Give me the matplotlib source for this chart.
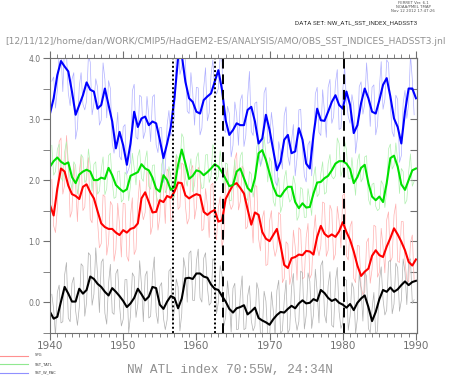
import numpy as np
import matplotlib.pyplot as plt
from matplotlib.ticker import MultipleLocator, FormatStrFormatter

# smoothed indices, every half year 1940.0 .. 1990.0
years = np.linspace(1940, 1990, 101)
sst_w_pac = [3.09, 3.34, 3.72, 3.95, 3.86, 3.78, 3.45, 3.07, 3.23, 3.39, 3.60, 3.48, 3.45, 3.17, 3.23, 3.50, 3.23, 2.96, 2.52, 2.79, 2.57, 2.25, 2.60, 3.12, 2.87, 3.01,
             3.04, 2.90, 2.96, 2.93, 2.66, 2.36, 2.60, 2.87, 3.34, 4.00, 4.05, 3.61, 3.34, 3.28, 3.12, 3.09, 3.31, 3.37, 3.42, 3.61, 3.80, 3.48, 2.98, 2.74,
             2.82, 2.93, 2.90, 2.90, 3.15, 3.20, 2.96, 2.60, 2.68, 3.07, 2.82, 2.49, 2.16, 2.30, 2.66, 2.74, 2.44, 2.47, 2.85, 2.66, 2.27, 2.19, 2.74, 3.17, 2.98,
             2.97, 3.12, 3.28, 3.39, 3.23, 3.17, 3.45, 3.23, 2.77, 2.90, 3.26, 3.50, 3.34, 3.12, 3.09, 3.31, 3.56, 3.67, 3.37, 3.01, 2.87, 2.60, 3.12, 3.50, 3.50, 3.34]
sst_tatl = [2.22, 2.31, 2.37, 2.30, 2.26, 2.29, 2.05, 1.95, 2.09, 2.14, 2.17, 2.14, 2.00, 2.00, 2.04, 2.02, 2.20, 2.08, 1.92, 1.86, 1.81, 1.85, 2.07, 2.10, 2.13, 2.26,
            2.19, 2.16, 2.04, 1.86, 1.81, 2.08, 2.00, 1.84, 1.89, 2.25, 2.50, 2.27, 2.02, 2.07, 2.16, 2.14, 2.08, 2.13, 2.19, 2.26, 2.22, 2.13, 2.02, 1.90,
            1.92, 2.14, 2.19, 2.03, 1.87, 1.81, 2.03, 2.44, 2.49, 2.33, 2.11, 1.89, 1.75, 1.73, 1.82, 1.89, 1.89, 1.64, 1.54, 1.62, 1.55, 1.56, 1.78, 1.96, 1.97,
            2.03, 2.07, 2.16, 2.27, 2.31, 2.31, 2.27, 2.18, 1.95, 2.05, 2.20, 2.25, 1.95, 1.73, 1.67, 1.73, 1.64, 1.95, 2.36, 2.40, 2.22, 1.93, 1.84, 2.00, 2.16, 2.19]
spg = [1.59, 1.42, 1.86, 2.19, 2.14, 1.91, 1.77, 1.74, 1.69, 1.89, 1.93, 1.80, 1.70, 1.49, 1.29, 1.23, 1.20, 1.20, 1.14, 1.10, 1.18, 1.14, 1.20, 1.22, 1.29, 1.70,
       1.80, 1.64, 1.47, 1.48, 1.67, 1.64, 1.74, 1.71, 1.81, 1.96, 1.95, 1.75, 1.70, 1.74, 1.77, 1.75, 1.48, 1.43, 1.48, 1.51, 1.32, 1.34, 1.69, 1.81,
       1.92, 1.95, 1.87, 1.78, 1.52, 1.27, 1.47, 1.43, 1.15, 1.04, 1.00, 1.10, 1.20, 0.93, 0.61, 0.56, 0.72, 0.74, 0.78, 0.77, 0.84, 0.83, 0.78, 1.07, 1.25,
       1.12, 1.07, 1.11, 1.07, 1.16, 1.31, 1.15, 1.02, 0.83, 0.60, 0.43, 0.50, 0.55, 0.76, 0.85, 0.77, 0.74, 0.91, 1.05, 1.21, 1.11, 0.99, 0.85, 0.66, 0.60, 0.70]
nw_atl = [-0.16, -0.27, -0.24, 0.01, 0.25, 0.14, 0.01, 0.01, 0.22, 0.14, 0.20, 0.42, 0.38, 0.30, 0.25, 0.17, 0.11, 0.23, 0.17, 0.10, 0.02, -0.08, -0.02, 0.07, 0.22, 0.13,
          0.03, 0.09, 0.25, 0.23, -0.04, -0.11, 0.01, 0.10, 0.07, -0.10, 0.06, 0.39, 0.40, 0.38, 0.47, 0.47, 0.42, 0.40, 0.29, 0.22, 0.20, 0.10, 0.01, -0.11,
          -0.17, -0.10, -0.08, -0.05, -0.20, -0.15, -0.09, -0.26, -0.30, -0.33, -0.37, -0.28, -0.21, -0.16, -0.17, -0.11, -0.06, -0.10, -0.02, 0.03, -0.02, -0.01, 0.05, 0.02, 0.20,
          0.15, 0.07, 0.02, 0.05, -0.01, -0.04, -0.09, -0.03, -0.13, -0.01, 0.06, 0.11, -0.08, -0.31, -0.16, 0.05, 0.20, 0.17, 0.24, 0.17, 0.21, 0.28, 0.34, 0.28, 0.33, 0.35]

# raw (unsmoothed) values at the quarter points 1940.25, 1940.75 .. 1989.75
raw_q_years = np.linspace(1940.25, 1989.75, 100)
w_pac_raw_q = [3.62, 3.18, 4.10, 3.45, 4.07, 3.22, 3.76, 2.85, 3.76, 3.15, 4.04, 3.07, 3.66, 2.90, 3.92, 3.02, 3.50, 2.44, 3.11, 2.33,
               2.91, 2.18, 3.46, 2.70, 3.39, 2.68, 3.37, 2.63, 3.40, 2.45, 2.86, 2.18, 3.14, 2.81, 4.07, 3.73, 4.13, 3.13, 3.76, 2.90,
               3.51, 2.85, 3.84, 3.10, 3.97, 3.41, 4.04, 2.83, 3.21, 2.38, 3.28, 2.57, 3.40, 2.73, 3.78, 2.73, 3.28, 2.24, 3.43, 2.60,
               3.11, 1.98, 2.63, 2.18, 3.20, 2.24, 2.91, 2.36, 3.16, 2.07, 2.58, 2.07, 3.41, 2.78, 3.48, 2.70, 3.65, 3.04, 3.81, 2.85,
               3.86, 3.04, 3.40, 2.44, 3.53, 3.08, 3.92, 2.88, 3.56, 2.90, 3.94, 3.32, 3.92, 2.79, 3.39, 2.29, 3.26, 3.01, 4.05, 3.07]
tatl_raw_q = [2.57, 2.14, 2.59, 1.98, 2.63, 2.02, 2.30, 1.77, 2.42, 1.96, 2.51, 1.82, 2.30, 1.82, 2.38, 1.86, 2.44, 1.70, 2.14, 1.64,
              2.13, 1.66, 2.44, 1.92, 2.50, 1.98, 2.48, 1.85, 2.25, 1.64, 2.25, 1.79, 2.22, 1.67, 2.42, 2.18, 2.69, 1.90, 2.35, 1.92,
              2.45, 1.86, 2.41, 1.96, 2.58, 1.99, 2.48, 1.83, 2.26, 1.66, 2.33, 1.97, 2.46, 1.70, 2.14, 1.72, 2.54, 2.22, 2.71, 1.97,
              2.30, 1.57, 2.04, 1.58, 2.16, 1.64, 2.07, 1.34, 1.88, 1.39, 1.86, 1.42, 2.22, 1.77, 2.30, 1.80, 2.42, 2.02, 2.69, 2.06,
              2.64, 2.03, 2.37, 1.75, 2.43, 2.03, 2.40, 1.59, 1.95, 1.50, 1.99, 1.55, 2.51, 2.18, 2.61, 1.78, 2.14, 1.67, 2.43, 1.98]
spg_raw_q = [2.01, 1.14, 2.63, 1.77, 2.73, 1.39, 2.26, 1.32, 2.39, 1.56, 2.37, 1.30, 2.00, 0.89, 1.76, 0.77, 1.65, 0.67, 1.62, 0.74,
             1.61, 0.67, 1.71, 0.86, 2.00, 1.35, 2.17, 1.11, 1.98, 1.18, 2.11, 1.29, 2.13, 1.41, 2.39, 1.56, 2.25, 1.28, 2.17, 1.36,
             2.21, 1.17, 1.86, 1.06, 1.95, 1.02, 1.73, 1.07, 2.20, 1.52, 2.34, 1.51, 2.23, 1.20, 1.85, 0.97, 1.90, 0.84, 1.50, 0.62,
             1.50, 0.75, 1.47, 0.32, 0.99, 0.29, 1.18, 0.36, 1.18, 0.41, 1.29, 0.46, 1.43, 0.76, 1.64, 0.75, 1.59, 0.69, 1.57, 0.89,
             1.78, 0.69, 1.33, 0.32, 0.92, 0.12, 0.98, 0.31, 1.26, 0.41, 1.21, 0.48, 1.48, 0.73, 1.61, 0.65, 1.32, 0.36, 0.98, 0.35]
nw_atl_raw_q = [0.13, -0.56, 0.28, -0.32, 0.65, -0.32, 0.41, -0.38, 0.63, -0.23, 0.81, -0.05, 0.89, -0.17, 0.71, -0.36, 0.62, -0.20, 0.54, -0.39,
                0.37, -0.50, 0.48, -0.25, 0.68, -0.32, 0.51, -0.23, 0.74, -0.35, 0.32, -0.45, 0.51, -0.31, 0.38, -0.47, 0.73, 0.00, 0.84, 0.03,
                0.87, 0.00, 0.81, -0.05, 0.71, -0.19, 0.60, -0.39, 0.35, -0.49, 0.31, -0.44, 0.43, -0.43, 0.27, -0.47, 0.32, -0.53, 0.18, -0.55,
                0.17, -0.55, 0.36, -0.47, 0.36, -0.44, 0.47, -0.46, 0.51, -0.44, 0.48, -0.43, 0.54, -0.34, 0.68, -0.34, 0.50, -0.41, 0.57, -0.43,
                0.38, -0.46, 0.32, -0.52, 0.48, -0.31, 0.42, -0.50, 0.16, -0.46, 0.58, -0.21, 0.66, -0.19, 0.64, -0.15, 0.71, -0.04, 0.71, 0.04]

# raw values at the half points 1940.5, 1941.0 .. 1989.5
raw_h_years = np.linspace(1940.5, 1989.5, 99)
w_pac_raw_h = [3.69, 3.47, 4.10, 4.26, 3.43, 3.65, 2.67, 3.53, 3.24, 3.30, 3.93, 3.25, 3.52, 2.98, 3.65, 3.63, 2.61, 2.72, 2.39, 2.87,
               2.10, 2.30, 3.57, 2.67, 3.36, 2.79, 3.05, 3.36, 2.58, 2.86, 1.96, 2.90, 2.72, 3.04, 4.45, 3.85, 3.96, 3.09, 3.43, 3.52,
               2.74, 3.51, 2.97, 3.72, 3.46, 3.50, 3.93, 2.78, 3.09, 2.57, 3.08, 3.30, 2.55, 3.35, 2.80, 3.26, 2.45, 2.38, 3.52, 2.62,
               2.84, 1.91, 2.45, 3.06, 2.39, 2.64, 2.07, 3.15, 2.51, 1.97, 2.64, 2.54, 3.52, 2.73, 3.12, 3.52, 2.93, 3.59, 2.83, 3.47,
               3.30, 2.93, 3.22, 2.70, 3.61, 3.25, 3.49, 3.52, 2.74, 3.51, 3.16, 3.97, 3.22, 2.71, 3.32, 2.40, 3.47, 3.25, 3.65]
tatl_raw_h = [2.08, 2.50, 2.04, 2.46, 2.19, 1.85, 2.24, 1.96, 2.37, 2.01, 2.24, 2.26, 1.77, 2.17, 1.76, 2.40, 1.98, 1.72, 2.15, 1.68,
              2.08, 1.91, 2.20, 2.39, 2.03, 2.32, 1.90, 2.24, 1.76, 1.61, 2.37, 1.87, 2.07, 1.73, 2.35, 2.76, 2.04, 2.15, 1.81, 2.36,
              2.04, 1.88, 2.42, 2.06, 2.49, 2.06, 2.23, 2.28, 1.67, 2.05, 1.88, 2.39, 1.93, 1.67, 2.10, 1.90, 2.67, 2.33, 2.43, 2.37,
              1.66, 1.88, 1.47, 2.02, 1.79, 1.69, 1.93, 1.41, 1.85, 1.39, 1.66, 2.04, 1.73, 2.10, 1.77, 2.27, 2.06, 2.07, 2.60, 2.18,
              2.50, 2.02, 2.05, 2.31, 1.97, 2.38, 1.69, 1.93, 1.57, 1.53, 1.93, 1.82, 2.59, 2.24, 2.32, 2.19, 1.61, 2.13, 1.90]
spg_raw_h = [1.25, 1.53, 2.69, 1.92, 2.30, 1.49, 1.91, 2.13, 1.50, 2.15, 1.36, 2.03, 1.32, 0.96, 1.73, 0.98, 1.59, 0.86, 1.27, 1.62,
             0.75, 1.42, 0.78, 1.62, 1.53, 1.47, 2.14, 1.25, 1.87, 1.39, 1.81, 2.18, 1.32, 2.03, 1.52, 2.28, 1.58, 1.37, 2.24, 1.55,
             2.14, 1.20, 1.60, 1.92, 1.12, 1.54, 0.90, 2.02, 1.64, 1.59, 2.45, 1.65, 2.17, 1.24, 1.44, 1.91, 1.04, 1.37, 0.60, 1.33,
             0.93, 0.87, 1.43, 0.39, 0.95, 0.44, 0.91, 1.22, 0.38, 1.06, 0.39, 1.11, 0.90, 0.92, 1.62, 0.85, 1.50, 0.79, 1.33, 1.75,
             0.76, 1.24, 0.39, 0.93, 0.26, 0.17, 1.05, 0.54, 1.24, 0.49, 0.91, 1.35, 0.66, 1.43, 0.67, 1.32, 0.68, 0.33, 1.10]
nw_atl_raw_h = [-0.12, 0.16, -0.34, 0.45, -0.26, 0.31, -0.14, -0.08, 0.59, 0.00, 0.77, 0.13, 0.45, 0.65, -0.18, 0.31, -0.17, 0.47, -0.05, -0.28,
                0.37, -0.22, 0.42, -0.03, 0.28, 0.43, -0.26, 0.45, -0.17, 0.26, -0.26, -0.29, 0.55, -0.13, 0.25, -0.19, 0.54, 0.80, 0.03, 0.67,
                0.07, 0.72, 0.25, -0.01, 0.67, 0.00, 0.45, -0.24, 0.04, 0.23, -0.45, 0.12, -0.45, 0.10, -0.30, -0.39, 0.19, -0.50, 0.02, -0.62,
                -0.13, 0.19, -0.51, 0.03, -0.51, 0.24, -0.25, -0.32, 0.48, -0.22, 0.34, -0.20, 0.17, 0.60, -0.20, 0.27, -0.38, 0.35, -0.16, -0.34,
                0.36, -0.23, 0.22, -0.26, 0.21, 0.51, -0.43, -0.11, -0.56, 0.35, 0.05, -0.13, 0.69, -0.03, 0.56, 0.03, 0.49, 0.68, -0.02]

dotted_years = [1956.8, 1962.6]
dashed_years = [1963.6, 1980.2]

legend_names = ['SPG', 'SST_TATL', 'SST_W_PAC']


def merged(quarter_vals, half_vals):
    t = np.concatenate([raw_q_years, raw_h_years])
    v = np.concatenate([quarter_vals, half_vals])
    order = np.argsort(t)
    return t[order], v[order]


W, H = 461, 376
fig = plt.figure(figsize=(W / 100, H / 100), dpi=100)
ax = fig.add_axes([50 / W, 1 - 332.7 / H, 366.7 / W, 274.7 / H])

gray = '#707070'

# raw series in light colours
ax.plot(*merged(spg_raw_q, spg_raw_h), color='#ffb0b0', lw=0.5)
ax.plot(*merged(tatl_raw_q, tatl_raw_h), color='#b0f0b0', lw=0.5)
ax.plot(*merged(w_pac_raw_q, w_pac_raw_h), color='#b0b0ff', lw=0.5)
ax.plot(*merged(nw_atl_raw_q, nw_atl_raw_h), color='#b0b0b0', lw=0.5)

# smoothed series
ax.plot(years, spg, color='#ff0000', lw=1.5)
ax.plot(years, sst_tatl, color='#00e000', lw=1.5)
ax.plot(years, sst_w_pac, color='#0000ff', lw=1.5)
ax.plot(years, nw_atl, color='black', lw=1.5)

for yr in dotted_years:
    ax.axvline(yr, color='black', lw=1.4, ls=(0, (1, 1.2)))
for yr in dashed_years:
    ax.axvline(yr, color='black', lw=1.4, ls=(0, (5, 3)))

ax.set_xlim(1940, 1990.1)
ax.set_ylim(-0.5, 4.0)

ax.xaxis.set_major_locator(MultipleLocator(10))
ax.xaxis.set_minor_locator(MultipleLocator(1))
ax.yaxis.set_major_locator(MultipleLocator(1))
ax.yaxis.set_minor_locator(MultipleLocator(0.5))
ax.yaxis.set_major_formatter(FormatStrFormatter('%.1f'))

ax.tick_params(axis='x', which='both', direction='out', top=True, color=gray, labelcolor=gray, labelsize=7.5, pad=1)
ax.tick_params(axis='x', which='major', length=5)
ax.tick_params(axis='x', which='minor', length=3)
ax.tick_params(axis='y', which='both', direction='out', length=5, color=gray, labelcolor=gray, labelsize=5.5, pad=2)
for sp in ax.spines.values():
    sp.set_color(gray)
    sp.set_linewidth(0.8)

sec = ax.secondary_yaxis('right')
sec.yaxis.set_major_locator(MultipleLocator(0.5))
sec.tick_params(direction='in', length=5, color=gray, labelright=False)
sec.spines['right'].set_color(gray)


def px(x, y):
    return x / W, 1 - y / H


fig.text(*px(413, 3.5), 'FERRET Ver. 6.1', fontsize=2.8, color='#555555', ha='center', va='center')
fig.text(*px(413, 7.5), 'NOAA/PMEL TMAP', fontsize=2.8, color='#555555', ha='center', va='center')
fig.text(*px(413, 11.5), 'Nov 12 2012 17:47:26', fontsize=2.8, color='#555555', ha='center', va='center')

fig.text(*px(417, 23), 'DATA SET: NW_ATL_SST_INDEX_HADSST3', family='Roboto', fontsize=4.6,
         color='#303030', ha='right', va='center')
fig.text(*px(5, 41.5), '[12/11/12]/home/dan/WORK/CMIP5/HadGEM2-ES/ANALYSIS/AMO/OBS_SST_INDICES_HADSST3.jnl',
         fontsize=6.6, color='#909090', ha='left', va='center')

fig.text(*px(230, 370), 'NW ATL index 70:55W, 24:34N', family='Liberation Mono', fontsize=9.2,
         color='#909090', ha='center', va='center')

legend_cols = ['#ff9090', '#90e890', '#9090ff']
legend_y = [355.5, 364, 372.5]
for name, col, ypix in zip(legend_names, legend_cols, legend_y):
    fig.add_artist(plt.Line2D([0, 28 / W], [1 - ypix / H] * 2, color=col, lw=0.8, transform=fig.transFigure))
    fig.text(*px(35, ypix), name, fontsize=2.7, color='#404040', ha='left', va='center')

fig.savefig('out.png', dpi=100)
